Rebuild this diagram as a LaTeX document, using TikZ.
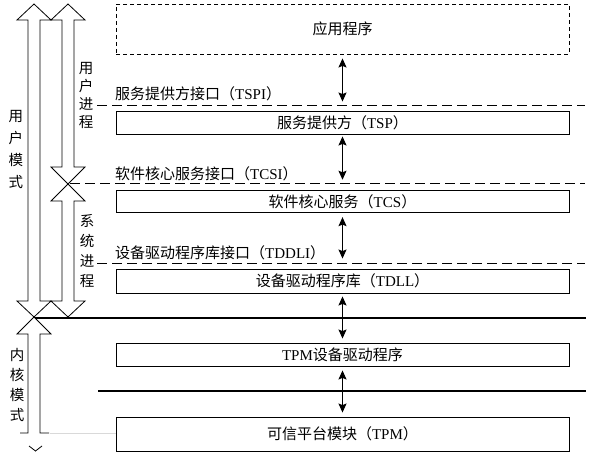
\documentclass[tikz,border=0pt]{standalone}
\usepackage{fontspec}
\setmainfont{Liberation Serif}
\newfontfamily\cjk{Noto Sans CJK SC}
\usetikzlibrary{arrows.meta}
\newcommand\zh[1]{{\cjk #1}}
\begin{document}
\begin{tikzpicture}[x=1pt,y=-1pt,
  box/.style={draw, line width=0.9pt, minimum width=453pt, inner sep=0pt,
    font=\fontsize{15}{17}\selectfont},
  lab/.style={anchor=west, inner sep=0pt, font=\fontsize{15}{17}\selectfont},
  vlab/.style={align=center, inner sep=0pt},
  sep/.style={line width=1pt, dash pattern=on 10pt off 5pt},
  solidsep/.style={line width=1.8pt},
  hollow/.style={line width=0.8pt, line join=miter},
  dbl/.style={line width=1.2pt, {Stealth[length=9pt,width=8pt,inset=1.5pt]}-{Stealth[length=9pt,width=8pt,inset=1.5pt]}}
]
\useasboundingbox (0,0) rectangle (614,457);

% boxes
\node[box, dash pattern=on 4pt off 3pt, minimum height=50pt] (app) at (342.5,29) {\zh{应用程序}};
\node[box, minimum height=23pt] (tsp) at (342.5,122.5) {\zh{服务提供方（}TSP\zh{）}};
\node[box, minimum height=22pt] (tcs) at (342.5,201.7) {\zh{软件核心服务（}TCS\zh{）}};
\node[box, minimum height=24pt] (tdll) at (342.5,281) {\zh{设备驱动程序库（}TDLL\zh{）}};
\node[box, minimum height=23pt] (drv) at (342.5,354.5) {TPM\zh{设备驱动程序}};
\node[box, minimum height=34pt] (tpm) at (342.5,434) {\zh{可信平台模块（}TPM\zh{）}};

% interface labels
\node[lab] (tspi) at (115,94) {\zh{服务提供方接口（}TSPI\zh{）}};
\node[lab] (tcsi) at (115,174) {\zh{软件核心服务接口（}TCSI\zh{）}};
\node[lab] (tddli) at (115,253) {\zh{设备驱动程序库接口（}TDDLI\zh{）}};

% separators
\draw[sep] (97,106) -- (585,106);
\draw[sep] (70,184) -- (585,184);
\draw[sep] (97,264) -- (585,264);
\draw[solidsep] (35,318) -- (586,318);
\draw[solidsep] (98,391) -- (586,391);

% vertical connectors
\draw[dbl, shorten <=4pt, shorten >=9pt] (app) -- (tsp);
\draw[dbl, shorten <=2pt, shorten >=10.5pt] (tsp) -- (tcs);
\draw[dbl, shorten <=4pt, shorten >=10pt] (tcs) -- (tdll);
\draw[dbl, shorten <=3pt, shorten >=4pt] (tdll) -- (drv);
\draw[dbl, shorten <=4pt, shorten >=4pt] (drv) -- (tpm);

% hollow arrows
\draw[hollow] (28,301) -- (28,20) -- (17,20) -- (34,4) -- (51,20) -- (40,20)
  -- (40,301) -- (51,301) -- (34,317) -- (17,301) -- cycle;
\draw[hollow] (62,167) -- (62,20) -- (51,20) -- (68,4) -- (85,20) -- (74,20)
  -- (74,167) -- (85,167) -- (68,184) -- (51,167) -- cycle;
\draw[hollow] (68,184) -- (85,201) -- (74,201) -- (74,301) -- (85,301) -- (68,317)
  -- (51,301) -- (62,301) -- (62,201) -- (51,201) -- cycle;
\draw[hollow] (20,433) -- (28,433) -- (28,334) -- (17,334) -- (34,317) -- (51,334)
  -- (40,334) -- (40,433) -- (49,433);
\draw[hollow] (29,446) -- (35.5,451) -- (42,446);
\draw[black!15, line width=0.6pt] (50,433) -- (116,433);

% vertical labels
\node[vlab, font=\fontsize{14.5}{22}\selectfont\cjk] (um) at (16,150) {用\\户\\模\\式};
\node[vlab, font=\fontsize{14.5}{18}\selectfont\cjk] (up) at (86,95) {用\\户\\进\\程};
\node[vlab, font=\fontsize{14.5}{20}\selectfont\cjk] (sp) at (87,251.5) {系\\统\\进\\程};
\node[vlab, font=\fontsize{14.5}{20}\selectfont\cjk] (km) at (17,385.5) {内\\核\\模\\式};
\end{tikzpicture}
\end{document}
